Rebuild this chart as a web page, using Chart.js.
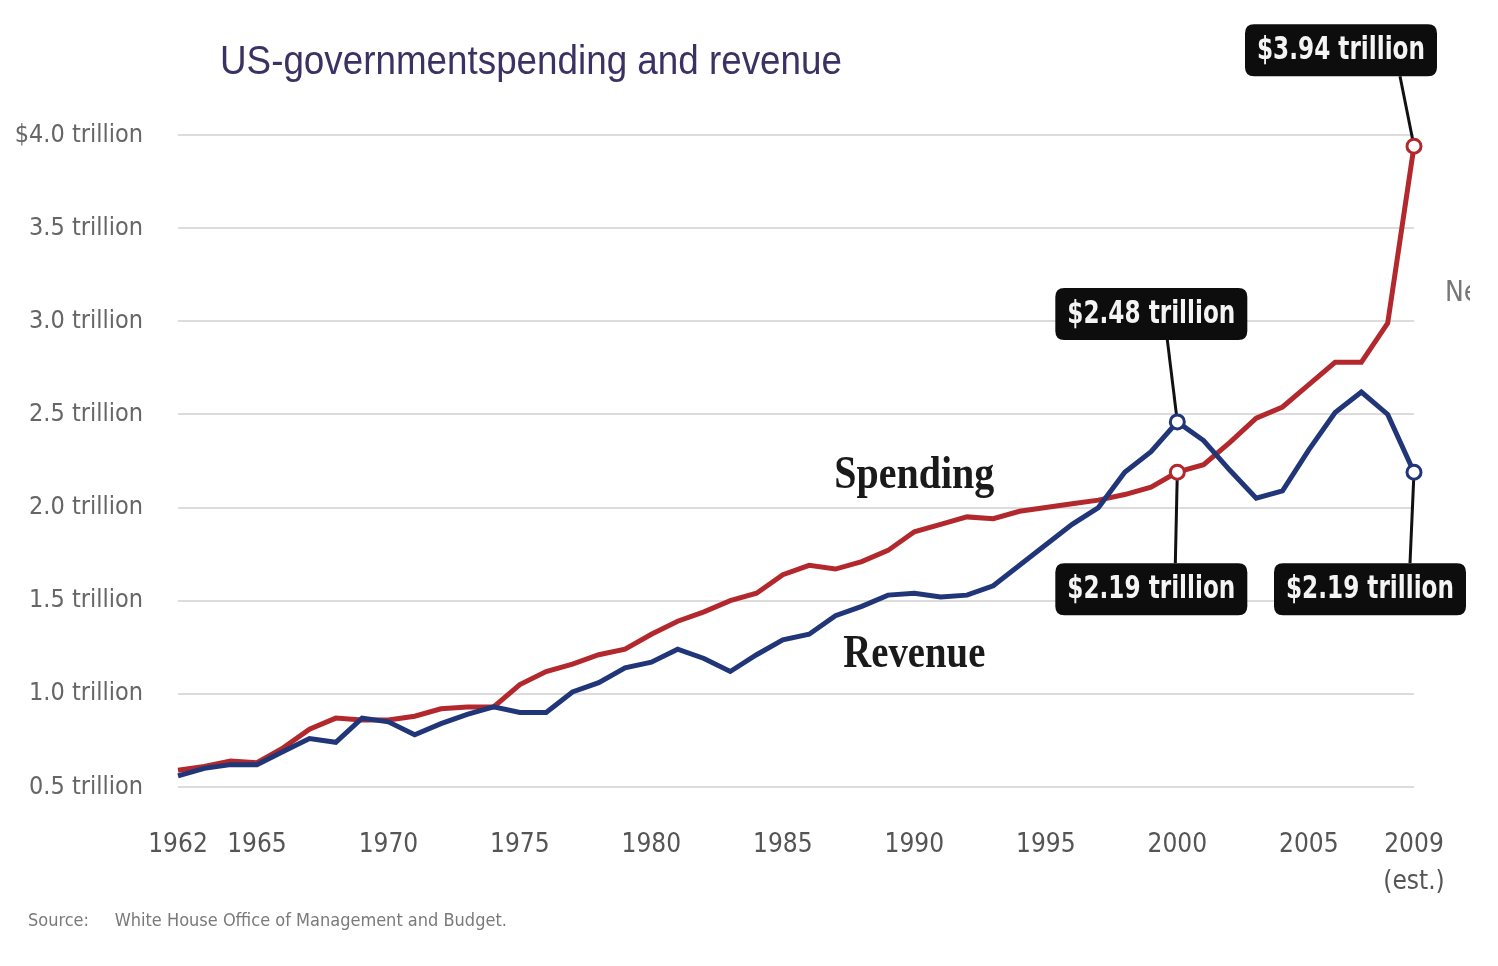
<!DOCTYPE html>
<html>
<head>
<meta charset="utf-8">
<script src="https://cdn.jsdelivr.net/npm/chart.js@4/dist/chart.umd.min.js"></script>
<style>
  html, body { margin: 0; padding: 0; background: #ffffff; }
  canvas { display: block; }
</style>
</head>
<body>
<canvas id="c" width="1498" height="966"></canvas>
<script>
// ---------------- data ----------------
const years = [1962,1963,1964,1965,1966,1967,1968,1969,1970,1971,1972,1973,1974,1975,1976,1977,1978,1979,
  1980,1981,1982,1983,1984,1985,1986,1987,1988,1989,1990,1991,1992,1993,1994,1995,1996,1997,1998,1999,
  2000,2001,2002,2003,2004,2005,2006,2007,2008,2009];
const spending = [0.59,0.61,0.64,0.63,0.71,0.81,0.87,0.86,0.86,0.88,0.92,0.93,0.93,1.05,1.12,1.16,1.21,1.24,
  1.32,1.39,1.44,1.50,1.54,1.64,1.69,1.67,1.71,1.77,1.87,1.91,1.95,1.94,1.98,2.00,2.02,2.04,2.07,2.11,
  2.19,2.23,2.35,2.48,2.54,2.66,2.78,2.78,2.99,3.94];
const revenue = [0.56,0.60,0.62,0.62,0.69,0.76,0.74,0.87,0.85,0.78,0.84,0.89,0.93,0.90,0.90,1.01,1.06,1.14,
  1.17,1.24,1.19,1.12,1.21,1.29,1.32,1.42,1.47,1.53,1.54,1.52,1.53,1.58,1.69,1.80,1.91,2.00,2.19,2.30,
  2.46,2.36,2.20,2.05,2.09,2.31,2.51,2.62,2.50,2.19];
const xTickYears = [1962,1965,1970,1975,1980,1985,1990,1995,2000,2005,2009];
const xTickLabels = ["1962","1965","1970","1975","1980","1985","1990","1995","2000","2005",["2009","(est.)"]];
const yTickValues = [0.5,1.0,1.5,2.0,2.5,3.0,3.5,4.0];
const yTickLabels = ["0.5 trillion","1.0 trillion","1.5 trillion","2.0 trillion","2.5 trillion","3.0 trillion","3.5 trillion","$4.0 trillion"];
// annotated points: series, year, label
const calloutSeries = ["spending","revenue","spending","revenue"];
const calloutYears  = [2009, 2000, 2000, 2009];
const calloutTexts  = ["$3.94 trillion","$2.48 trillion","$2.19 trillion","$2.19 trillion"];

const titleText = "US-governmentspending and revenue";
const sourceText = "Source:     White House Office of Management and Budget.";

// ---------------- styling / layout ----------------
const RED = "#b3282d";
const BLUE = "#203678";
const narrow = '"Liberation Sans Narrow", "DejaVu Sans Condensed", "Liberation Sans", sans-serif';
// box offsets (px) relative to annotated point
const calloutLayout = [
  {dx: -73, dy: -96, lx1: -14},
  {dx: -26, dy: -108, lx1: -10},
  {dx: -26, dy: 117, lx1: -2},
  {dx: -44, dy: 117, lx1: -4}
];

function seriesValues(name) { return name === "spending" ? spending : revenue; }
function toXY(vals) { return years.map((y, i) => ({x: y, y: vals[i]})); }
function markedIndex(name) {
  const idx = [];
  calloutSeries.forEach((s, k) => { if (s === name) idx.push(years.indexOf(calloutYears[k])); });
  return idx;
}
const spendMarks = markedIndex("spending");
const revMarks = markedIndex("revenue");

function fitText(ctx, text, x, y, targetW, align) {
  const w = ctx.measureText(text).width;
  const sx = Math.min(1, targetW / w);
  ctx.save();
  ctx.translate(x, y);
  ctx.scale(sx, 1);
  ctx.textAlign = align || "center";
  ctx.fillText(text, 0, 0);
  ctx.restore();
}

function roundRect(ctx, x, y, w, h, r) {
  ctx.beginPath();
  ctx.moveTo(x + r, y);
  ctx.lineTo(x + w - r, y);
  ctx.quadraticCurveTo(x + w, y, x + w, y + r);
  ctx.lineTo(x + w, y + h - r);
  ctx.quadraticCurveTo(x + w, y + h, x + w - r, y + h);
  ctx.lineTo(x + r, y + h);
  ctx.quadraticCurveTo(x, y + h, x, y + h - r);
  ctx.lineTo(x, y + r);
  ctx.quadraticCurveTo(x, y, x + r, y);
  ctx.closePath();
}

function calloutGeom(chart, k) {
  const xs = chart.scales.x, ys = chart.scales.y;
  const vals = seriesValues(calloutSeries[k]);
  const i = years.indexOf(calloutYears[k]);
  const px = xs.getPixelForValue(calloutYears[k]);
  const py = ys.getPixelForValue(vals[i]);
  const L = calloutLayout[k];
  return {px, py, bx: px + L.dx, by: py + L.dy, L};
}

const decorPlugin = {
  id: "decor",
  beforeDatasetsDraw(chart) {
    const ctx = chart.ctx;
    ctx.save();
    ctx.strokeStyle = "#111";
    ctx.lineWidth = 3;
    calloutSeries.forEach((s, k) => {
      const g = calloutGeom(chart, k);
      const edgeY = g.L.dy < 0 ? g.by + 26 : g.by - 26;
      ctx.beginPath();
      ctx.moveTo(g.px, g.py);
      ctx.lineTo(g.px + g.L.lx1, edgeY);
      ctx.stroke();
    });
    ctx.restore();
  },
  afterDatasetsDraw(chart) {
    const ctx = chart.ctx;
    const xs = chart.scales.x, ys = chart.scales.y;
    calloutSeries.forEach((s, k) => {
      const g = calloutGeom(chart, k);
      ctx.save();
      ctx.fillStyle = "#0d0d0d";
      roundRect(ctx, g.bx - 96, g.by - 26, 192, 52, 9);
      ctx.fill();
      ctx.fillStyle = "#f4f4f4";
      ctx.font = "bold 32px " + narrow;
      ctx.textBaseline = "middle";
      fitText(ctx, calloutTexts[k], g.bx, g.by + 1, 168, "center");
      ctx.restore();
    });
    ctx.save();
    ctx.fillStyle = "#1a1a1a";
    ctx.textBaseline = "middle";
    ctx.font = "bold 46px \"Liberation Serif\", \"DejaVu Serif\", serif";
    fitText(ctx, "Spending", xs.getPixelForValue(1990.0), ys.getPixelForValue(2.17), 160, "center");
    fitText(ctx, "Revenue", xs.getPixelForValue(1990.0), ys.getPixelForValue(1.21), 142, "center");
    ctx.restore();
  },
  afterDraw(chart) {
    const ctx = chart.ctx;
    ctx.save();
    ctx.textBaseline = "middle";
    ctx.fillStyle = "#3b3162";
    ctx.font = "40px \"Liberation Sans\", Arial, sans-serif";
    fitText(ctx, titleText, 220, 63, 622, "left");
    ctx.fillStyle = "#7a7a7a";
    ctx.font = "18px " + narrow;
    fitText(ctx, sourceText, 28, 921, 488, "left");
    ctx.beginPath();
    ctx.rect(1440, 270, 30, 50);
    ctx.clip();
    ctx.fillStyle = "#777";
    ctx.font = "28px " + narrow;
    ctx.textAlign = "left";
    ctx.fillText("Ne", 1445, 294);
    ctx.restore();
  }
};

new Chart(document.getElementById("c"), {
  type: "line",
  data: {
    datasets: [
      {
        label: "Spending",
        data: toXY(spending),
        borderColor: RED,
        borderWidth: 5,
        tension: 0,
        clip: false,
        pointRadius: c => spendMarks.includes(c.dataIndex) ? 7 : 0,
        pointBackgroundColor: "#ffffff",
        pointBorderColor: RED,
        pointBorderWidth: 3,
        order: 2
      },
      {
        label: "Revenue",
        data: toXY(revenue),
        borderColor: BLUE,
        borderWidth: 5,
        tension: 0,
        clip: false,
        pointRadius: c => revMarks.includes(c.dataIndex) ? 7 : 0,
        pointBackgroundColor: "#ffffff",
        pointBorderColor: BLUE,
        pointBorderWidth: 3,
        order: 1
      }
    ]
  },
  options: {
    responsive: false,
    animation: false,
    devicePixelRatio: 1,
    layout: { padding: { left: 0, right: 84, top: 135, bottom: 39 } },
    plugins: { legend: { display: false }, tooltip: { enabled: false }, title: { display: false } },
    scales: {
      x: {
        type: "linear",
        min: 1962,
        max: 2009,
        afterBuildTicks: axis => { axis.ticks = xTickYears.map(v => ({value: v})); },
        afterFit: axis => { axis.height = 140; },
        grid: { display: false, drawTicks: false },
        border: { display: false },
        ticks: {
          autoSkip: false,
          maxRotation: 0,
          padding: 39,
          color: "#555",
          font: { family: narrow, size: 26, lineHeight: 1.45 },
          callback: v => { const k = xTickYears.indexOf(v); return k >= 0 ? xTickLabels[k] : ""; }
        }
      },
      y: {
        min: 0.5,
        max: 4.0,
        afterBuildTicks: axis => { axis.ticks = yTickValues.map(v => ({value: v})); },
        afterFit: axis => { axis.width = 178; },
        grid: { color: "#dcdcdc", lineWidth: 2, drawTicks: false },
        border: { display: false },
        ticks: {
          padding: 35,
          color: "#666",
          font: { family: narrow, size: 25 },
          callback: v => { const k = yTickValues.indexOf(v); return k >= 0 ? yTickLabels[k] : ""; }
        }
      }
    }
  },
  plugins: [decorPlugin]
});
</script>
</body>
</html>
